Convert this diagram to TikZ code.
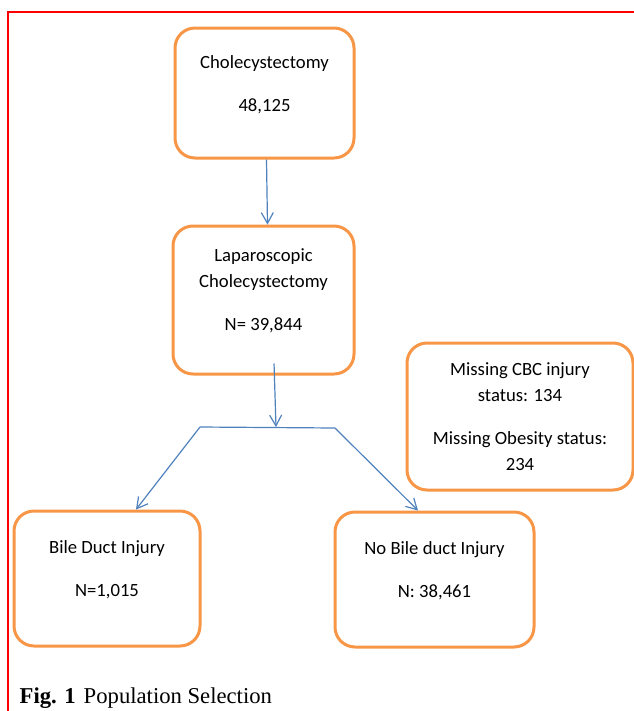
\documentclass[tikz,border=0pt]{standalone}
\usepackage{fontspec}
\setmainfont{Carlito}
\newfontfamily\capfont{Liberation Serif}
\usetikzlibrary{arrows.meta}
\definecolor{boxorange}{HTML}{F79646}
\definecolor{lineblue}{HTML}{4F81BD}

\begin{document}
\begin{tikzpicture}[x=0.75pt,y=-0.75pt,>={Straight Barb[length=8pt,width=9pt]},stage/.style={draw=boxorange, line width=2.25pt, rounded corners=15pt, align=center, font=\fontsize{14}{19.5}\selectfont},flow/.style={->, draw=lineblue, line width=0.9pt},branch/.style={draw=lineblue, line width=0.9pt},frame/.style={draw=red, line width=1.5pt},caption/.style={font=\capfont\fontsize{17}{20}\selectfont}]
\useasboundingbox (0,0) rectangle (634,711);
\draw[frame] (8,711) -- (8,12) -- (634,12);
\coordinate (splitL) at (200,427); \coordinate (splitM) at (276,427); \coordinate (splitR) at (335,428);
\node[stage, minimum width=134.25pt, minimum height=97.5pt] (chole) at (264.5,93) {Cholecystectomy\\[13pt]48,125\\[-5pt] \mbox{}};
\node[stage, minimum width=135.75pt, minimum height=111pt] (lap) at (263.5,300) {Laparoscopic\\Cholecystectomy\\[12.5pt]N= 39,844\\[-4pt] \mbox{}};
\node[stage, minimum width=169.5pt, minimum height=110.25pt] (miss) at (520,416.5) {Missing CBC injury\\status: 134\\[12.5pt]Missing Obesity status:\\234};
\node[stage, minimum width=139.5pt, minimum height=101.25pt] (bdi) at (107,578.5) {Bile Duct Injury\\[12.5pt]N=1,015\\[-5pt] \mbox{}};
\node[stage, minimum width=149.25pt, minimum height=101.25pt] (nobdi) at (434.5,579.5) {No Bile duct Injury\\[12.5pt]N: 38,461\\[-5pt] \mbox{}};
\draw[flow] ([xshift=1.5pt]chole.south) -- ([xshift=3pt]lap.north);
\draw[flow] ([xshift=7.9pt,yshift=9pt]lap.south) -- (splitM);
\draw[branch] (splitL) -- (splitR);
\draw[flow] (splitL) -- ([xshift=21.75pt]bdi.north);
\draw[flow] (splitR) -- ([xshift=-12.4pt]nobdi.north);
\node[caption, anchor=base west] (cap) at (15,703) {\textbf{Fig. 1}\hspace{6pt}Population Selection};
\end{tikzpicture}
\end{document}
